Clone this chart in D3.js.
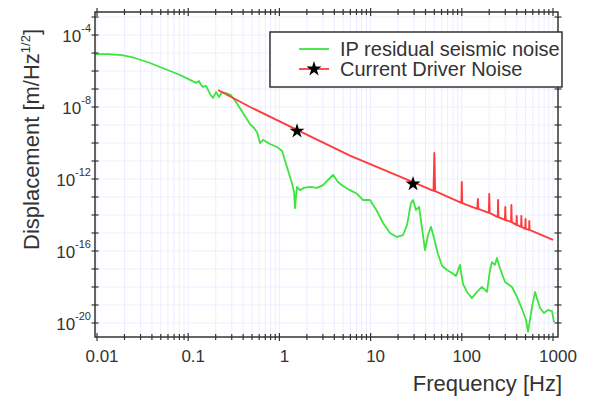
<!DOCTYPE html>
<html>
<head>
<meta charset="utf-8">
<script src="https://cdn.jsdelivr.net/npm/d3@7"></script>
<style>
  body { margin: 0; background: #fff; }
  text { font-family: "Liberation Sans", Arial, Helvetica, sans-serif; fill: #333; }
</style>
</head>
<body>
<div id="chart"></div>
<script>
// data
const seismicFreq = [0.0095, 0.0132, 0.0188, 0.0261, 0.0381, 0.0557, 0.0813, 0.1047, 0.122, 0.131,
  0.138, 0.145, 0.157, 0.173, 0.187, 0.202, 0.218, 0.235, 0.259, 0.294,
  0.334, 0.399, 0.477, 0.527, 0.568, 0.612, 0.660, 0.789, 0.942, 1.07,
  1.21, 1.37, 1.45, 1.48, 1.56, 1.68, 1.86, 2.17, 2.58, 3.01,
  3.41, 3.87, 4.39, 4.98, 5.94, 7.10, 8.26, 9.85, 11.7, 13.7,
  16.3, 19.5, 22.7, 25.1, 27.7, 29.2, 31.5, 34.0, 36.6, 39.5,
  42.6, 45.9, 49.6, 54.8, 60.7, 68.8, 78.1, 86.4, 95.5, 103,
  114, 129, 147, 166, 189, 204, 214, 231, 243, 262,
  298, 355, 403, 457, 506, 532, 589, 635, 720, 796,
  881, 975, 1026];
const seismicNoise = [8.8e-6, 8.8e-6, 7.7e-6, 5.3e-6, 2.8e-6, 1.3e-6, 6.0e-7, 3.2e-7, 2.2e-7, 2.8e-7,
  1.7e-7, 1.3e-7, 1.5e-7, 5.3e-8, 3.2e-8, 6.8e-8, 3.6e-8, 6.8e-8, 6.0e-8, 4.6e-8,
  1.9e-8, 4.6e-9, 1.1e-9, 6.8e-10, 4.1e-10, 1.0e-10, 1.5e-10, 8.8e-11, 6.0e-11, 3.6e-11,
  4.6e-12, 6.0e-13, 1.9e-13, 2.4e-14, 3.6e-13, 2.4e-13, 3.2e-13, 3.6e-13, 3.2e-13, 4.6e-13,
  8.8e-13, 1.7e-12, 6.8e-13, 4.1e-13, 2.4e-13, 1.5e-13, 6.8e-14, 6.8e-14, 1.7e-14, 3.6e-15,
  1.0e-15, 6.0e-16, 7.7e-16, 2.8e-15, 4.6e-14, 6.8e-14, 1.9e-14, 2.8e-14, 1.9e-15, 1.1e-16,
  7.7e-16, 2.2e-15, 5.3e-16, 6.8e-17, 1.5e-17, 8.8e-18, 6.0e-18, 4.1e-18, 1.7e-17, 1.5e-18,
  5.3e-19, 2.4e-19, 5.3e-19, 1.0e-18, 5.3e-19, 8.8e-18, 2.4e-17, 1.7e-17, 4.1e-17, 1.1e-17,
  1.9e-18, 1.0e-18, 2.8e-19, 6.0e-20, 1.5e-20, 3.2e-21, 7.7e-20, 5.3e-19, 6.8e-20, 3.6e-20,
  5.3e-20, 4.6e-20, 1.1e-20];

const driverFreq = [0.212, 0.477, 1.56, 5.94, 29.2,
  49, 50, 51, 99, 100, 101, 148, 150, 152, 198, 200, 202,
  248, 250, 252, 297, 300, 303, 347, 350, 353, 397, 400, 403,
  447, 450, 453, 497, 500, 503, 547, 550, 553, 1000];
const driverNoise = [8.8e-8, 1.0e-8, 5.3e-10, 2.0e-11, 6.8e-13,
  2.2e-13, 2.8e-11, 2.1e-13, 4.7e-14, 6.8e-13, 4.6e-14, 2.2e-14, 7.7e-14, 2.2e-14,
  1.3e-14, 1.5e-13, 1.3e-14, 7.7e-15, 6.8e-14, 7.6e-15, 5.3e-15, 2.8e-14, 5.2e-15,
  4.1e-15, 3.6e-14, 4.0e-15, 2.8e-15, 8.8e-15, 2.8e-15, 2.2e-15, 8.8e-15, 2.2e-15,
  1.7e-15, 6.0e-15, 1.7e-15, 1.5e-15, 4.6e-15, 1.5e-15, 4.1e-16];

const starFreq = [1.56, 29.2];
const starNoise = [4.6e-10, 5.3e-13];

const xTickLabels = ["0.01", "0.1", "1", "10", "100", "1000"];
const yLabelExps = [-4, -8, -12, -16, -20];
const legendLabels = ["IP residual seismic noise", "Current Driver Noise"];

const W = 590, H = 400;
const plot = { left: 95, right: 558, top: 12, bottom: 337 };
const green = "#3ee43e", red = "#ff3c3c", ink = "#333";

const svg = d3.select("#chart").append("svg")
  .attr("width", W).attr("height", H);

const x = d3.scaleLog().domain([0.0095, 1135]).range([plot.left, plot.right]);
const y = d3.scaleLog().domain([Math.pow(10, -2.72), Math.pow(10, -20.78)]).range([plot.top, plot.bottom]);

// tick values
const xTicks = [];
for (let e = -2; e <= 3; e++) {
  for (let k = 1; k <= 9; k++) {
    const v = k * Math.pow(10, e);
    if (v <= 1000 * 1.0001) xTicks.push({ v: v, major: k === 1 });
  }
}
const yTicks = d3.range(-3, -21, -1).map(e => Math.pow(10, e));

// grid
svg.append("g").selectAll("line").data(xTicks).join("line")
  .attr("x1", d => x(d.v)).attr("x2", d => x(d.v))
  .attr("y1", plot.top).attr("y2", plot.bottom)
  .attr("stroke", "#eceeff").attr("stroke-width", 1);
svg.append("g").selectAll("line").data(yTicks).join("line")
  .attr("x1", plot.left).attr("x2", plot.right)
  .attr("y1", d => y(d)).attr("y2", d => y(d))
  .attr("stroke", "#eceeff").attr("stroke-width", 1);

svg.append("clipPath").attr("id", "clip").append("rect")
  .attr("x", plot.left).attr("y", plot.top)
  .attr("width", plot.right - plot.left).attr("height", plot.bottom - plot.top);

const line = d3.line().x(d => x(d[0])).y(d => y(d[1]));

svg.append("path")
  .datum(d3.zip(seismicFreq, seismicNoise))
  .attr("clip-path", "url(#clip)")
  .attr("d", line)
  .attr("fill", "none").attr("stroke", green).attr("stroke-width", 1.8)
  .attr("stroke-linejoin", "round");

svg.append("path")
  .datum(d3.zip(driverFreq, driverNoise))
  .attr("clip-path", "url(#clip)")
  .attr("d", line)
  .attr("fill", "none").attr("stroke", red).attr("stroke-width", 1.9)
  .attr("stroke-linejoin", "round");

const star = d3.symbol().type(d3.symbolStar).size(70);
svg.append("g").selectAll("path").data(d3.zip(starFreq, starNoise)).join("path")
  .attr("transform", d => `translate(${x(d[0])},${y(d[1])})`)
  .attr("d", star).attr("fill", "#000");

// frame + ticks on all sides
svg.append("rect")
  .attr("x", plot.left).attr("y", plot.top)
  .attr("width", plot.right - plot.left).attr("height", plot.bottom - plot.top)
  .attr("fill", "none").attr("stroke", ink).attr("stroke-width", 1.5);

const tk = svg.append("g").attr("stroke", ink).attr("stroke-width", 1.2);
[plot.bottom, plot.top].forEach(yy => {
  tk.append("g").selectAll("line").data(xTicks).join("line")
    .attr("x1", d => x(d.v)).attr("x2", d => x(d.v))
    .attr("y1", d => yy - (d.major ? 4 : 3)).attr("y2", d => yy + (d.major ? 4 : 3));
});
[plot.left, plot.right].forEach(xx => {
  tk.append("g").selectAll("line").data(yTicks).join("line")
    .attr("x1", xx - 3.5).attr("x2", xx + 3.5)
    .attr("y1", d => y(d)).attr("y2", d => y(d));
});

// x tick labels
svg.append("g").selectAll("text").data(xTickLabels).join("text")
  .attr("x", d => x(+d) + 5).attr("y", 362)
  .attr("text-anchor", "middle").attr("font-size", 17)
  .text(d => d);

// y tick labels
const yl = svg.append("g").selectAll("text").data(yLabelExps).join("text")
  .attr("x", 91).attr("y", d => y(Math.pow(10, d)) + 7)
  .attr("text-anchor", "end").attr("font-size", 17);
yl.append("tspan").text("10");
yl.append("tspan").attr("dy", -10).attr("font-size", 11).text(d => d);

// axis titles
svg.append("text")
  .attr("x", 562).attr("y", 391)
  .attr("text-anchor", "end").attr("font-size", 22)
  .text("Frequency [Hz]");

const yt = svg.append("text")
  .attr("transform", "translate(39,250) rotate(-90)")
  .attr("font-size", 22);
yt.append("tspan").text("Displacement [m/Hz");
yt.append("tspan").attr("dy", -9).attr("font-size", 13).text("1/2");
yt.append("tspan").attr("dy", 9).text("]");

// legend
const lg = svg.append("g");
lg.append("rect")
  .attr("x", 270).attr("y", 32).attr("width", 292).attr("height", 55)
  .attr("fill", "#fff").attr("stroke", ink).attr("stroke-width", 1.5);
const rows = lg.selectAll("g").data(legendLabels).join("g")
  .attr("transform", (d, i) => `translate(0,${49 + i * 20})`);
rows.append("line")
  .attr("x1", 299).attr("x2", 329).attr("y1", 0).attr("y2", 0)
  .attr("stroke", (d, i) => i === 0 ? green : red).attr("stroke-width", 1.8);
rows.filter((d, i) => i === 1).append("path")
  .attr("transform", "translate(314,0)")
  .attr("d", star).attr("fill", "#000");
rows.append("text")
  .attr("x", 340).attr("y", 7)
  .attr("font-size", 20)
  .text(d => d);
</script>
</body>
</html>
